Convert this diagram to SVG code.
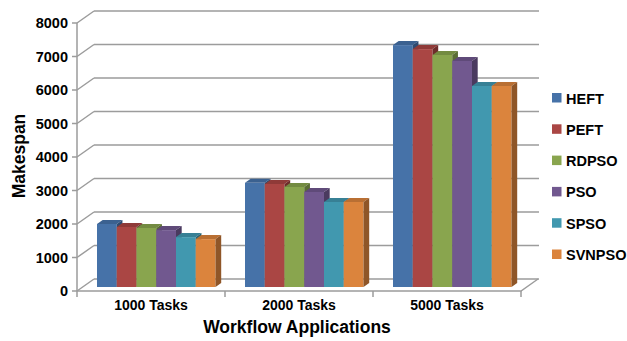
<svg xmlns="http://www.w3.org/2000/svg" width="627" height="341" viewBox="0 0 627 341">
  <style>
    text { font-family: "Liberation Sans", Arial, sans-serif; font-weight: bold; fill: #000; }
    .grid { stroke: #9C9C9C; stroke-width: 1.5; fill: none; }
    .ytick { font-size: 14.5px; text-anchor: end; }
    .xcat { font-size: 14px; text-anchor: middle; }
    .leg { font-size: 14.5px; }
    .heft .f { fill: #4672A8; } .heft .t { fill: #3B6190; } .heft .s { fill: #2E4B72; }
    .peft .f { fill: #AA4644; } .peft .t { fill: #8F3A38; } .peft .s { fill: #6E2C2B; }
    .rdpso .f { fill: #89A54E; } .rdpso .t { fill: #738B41; } .rdpso .s { fill: #5A6D33; }
    .pso .f { fill: #71588F; } .pso .t { fill: #5F4A79; } .pso .s { fill: #4A3A5F; }
    .spso .f { fill: #4198AF; } .spso .t { fill: #378095; } .spso .s { fill: #2A6474; }
    .svnpso .f { fill: #DB843D; } .svnpso .t { fill: #B96F33; } .svnpso .s { fill: #8F5628; }
  </style>
  <rect width="627" height="341" fill="#fff"/>

  <!-- back wall gridlines and left-wall diagonals -->
  <g id="grid" class="grid">
    <path d="M94 279H539M94 245.5H539M94 212H539M94 178.5H539M94 145H539M94 111.5H539M94 78H539M94 44.5H539M94 11H539"/>
    <path d="M77 291L94 279M77 257.5L94 245.5M77 224L94 212M77 190.5L94 178.5M77 157L94 145M77 123.5L94 111.5M77 90L94 78M77 56.5L94 44.5M77 23L94 11"/>
    <!-- floor front edge and right edge -->
    <path d="M77 291H521L538 279"/>
    <!-- value axis with tick marks -->
    <path d="M77 23V297M72 291H77M72 257.5H77M72 224H77M72 190.5H77M72 157H77M72 123.5H77M72 90H77M72 56.5H77M72 23H77"/>
    <!-- category ticks -->
    <path d="M225 291V297M373 291V297M521 291V297"/>
  </g>

  <!-- value axis labels -->
  <g id="y-labels" class="ytick">
    <text x="68" y="296">0</text>
    <text x="68" y="262.5">1000</text>
    <text x="68" y="229">2000</text>
    <text x="68" y="195.5">3000</text>
    <text x="68" y="162">4000</text>
    <text x="68" y="128.5">5000</text>
    <text x="68" y="95">6000</text>
    <text x="68" y="61.5">7000</text>
    <text x="68" y="28">8000</text>
  </g>
  <text id="y-title" transform="translate(24.5 156) rotate(-90)" font-size="17.5" text-anchor="middle">Makespan</text>

  <!-- bars: front face, top, side (drawn left to right) -->
  <g id="bars-1000">
    <g class="heft"><rect class="f" x="97" y="224" width="19.75" height="63"/><path class="t" d="M97 224l5.7 -4h19.75l-5.7 4z"/><path class="s" d="M116.75 224l5.7 -4V283l-5.7 4z"/></g>
    <g class="peft"><rect class="f" x="116.75" y="227" width="19.75" height="60"/><path class="t" d="M116.75 227l5.7 -4h19.75l-5.7 4z"/><path class="s" d="M136.5 227l5.7 -4V283l-5.7 4z"/></g>
    <g class="rdpso"><rect class="f" x="136.5" y="228" width="19.75" height="59"/><path class="t" d="M136.5 228l5.7 -4h19.75l-5.7 4z"/><path class="s" d="M156.25 228l5.7 -4V283l-5.7 4z"/></g>
    <g class="pso"><rect class="f" x="156.25" y="230.1" width="19.75" height="56.9"/><path class="t" d="M156.25 230.1l5.7 -4h19.75l-5.7 4z"/><path class="s" d="M176 230.1l5.7 -4V283l-5.7 4z"/></g>
    <g class="spso"><rect class="f" x="176" y="237.1" width="19.75" height="49.9"/><path class="t" d="M176 237.1l5.7 -4h19.75l-5.7 4z"/><path class="s" d="M195.75 237.1l5.7 -4V283l-5.7 4z"/></g>
    <g class="svnpso"><rect class="f" x="195.75" y="239.1" width="19.75" height="47.9"/><path class="t" d="M195.75 239.1l5.7 -4h19.75l-5.7 4z"/><path class="s" d="M215.5 239.1l5.7 -4V283l-5.7 4z"/></g>
  </g>
  <g id="bars-2000">
    <g class="heft"><rect class="f" x="245" y="182.8" width="19.75" height="104.2"/><path class="t" d="M245 182.8l5.7 -4h19.75l-5.7 4z"/><path class="s" d="M264.75 182.8l5.7 -4V283l-5.7 4z"/></g>
    <g class="peft"><rect class="f" x="264.75" y="184" width="19.75" height="103"/><path class="t" d="M264.75 184l5.7 -4h19.75l-5.7 4z"/><path class="s" d="M284.5 184l5.7 -4V283l-5.7 4z"/></g>
    <g class="rdpso"><rect class="f" x="284.5" y="187" width="19.75" height="100"/><path class="t" d="M284.5 187l5.7 -4h19.75l-5.7 4z"/><path class="s" d="M304.25 187l5.7 -4V283l-5.7 4z"/></g>
    <g class="pso"><rect class="f" x="304.25" y="192" width="19.75" height="95"/><path class="t" d="M304.25 192l5.7 -4h19.75l-5.7 4z"/><path class="s" d="M324 192l5.7 -4V283l-5.7 4z"/></g>
    <g class="spso"><rect class="f" x="324" y="201.9" width="19.75" height="85.1"/><path class="t" d="M324 201.9l5.7 -4h19.75l-5.7 4z"/><path class="s" d="M343.75 201.9l5.7 -4V283l-5.7 4z"/></g>
    <g class="svnpso"><rect class="f" x="343.75" y="201.9" width="19.75" height="85.1"/><path class="t" d="M343.75 201.9l5.7 -4h19.75l-5.7 4z"/><path class="s" d="M363.5 201.9l5.7 -4V283l-5.7 4z"/></g>
  </g>
  <g id="bars-5000">
    <g class="heft"><rect class="f" x="393" y="45.1" width="19.75" height="241.9"/><path class="t" d="M393 45.1l5.7 -4h19.75l-5.7 4z"/><path class="s" d="M412.75 45.1l5.7 -4V283l-5.7 4z"/></g>
    <g class="peft"><rect class="f" x="412.75" y="49.1" width="19.75" height="237.9"/><path class="t" d="M412.75 49.1l5.7 -4h19.75l-5.7 4z"/><path class="s" d="M432.5 49.1l5.7 -4V283l-5.7 4z"/></g>
    <g class="rdpso"><rect class="f" x="432.5" y="55" width="19.75" height="232"/><path class="t" d="M432.5 55l5.7 -4h19.75l-5.7 4z"/><path class="s" d="M452.25 55l5.7 -4V283l-5.7 4z"/></g>
    <g class="pso"><rect class="f" x="452.25" y="60.9" width="19.75" height="226.1"/><path class="t" d="M452.25 60.9l5.7 -4h19.75l-5.7 4z"/><path class="s" d="M472 60.9l5.7 -4V283l-5.7 4z"/></g>
    <g class="spso"><rect class="f" x="472" y="86" width="19.75" height="201"/><path class="t" d="M472 86l5.7 -4h19.75l-5.7 4z"/><path class="s" d="M491.75 86l5.7 -4V283l-5.7 4z"/></g>
    <g class="svnpso"><rect class="f" x="491.75" y="86" width="19.75" height="201"/><path class="t" d="M491.75 86l5.7 -4h19.75l-5.7 4z"/><path class="s" d="M511.5 86l5.7 -4V283l-5.7 4z"/></g>
  </g>

  <!-- category labels and axis title -->
  <g id="x-labels" class="xcat">
    <text x="151" y="310">1000 Tasks</text>
    <text x="299" y="310">2000 Tasks</text>
    <text x="447" y="310">5000 Tasks</text>
  </g>
  <text id="x-title" x="297" y="333" font-size="17.5" text-anchor="middle">Workflow Applications</text>

  <!-- legend -->
  <g id="legend" class="leg">
    <g class="heft"><rect class="f" x="552" y="93" width="9.5" height="9.5"/><text x="566" y="103.5">HEFT</text></g>
    <g class="peft"><rect class="f" x="552" y="124.3" width="9.5" height="9.5"/><text x="566" y="134.8">PEFT</text></g>
    <g class="rdpso"><rect class="f" x="552" y="155.6" width="9.5" height="9.5"/><text x="566" y="166.1">RDPSO</text></g>
    <g class="pso"><rect class="f" x="552" y="186.9" width="9.5" height="9.5"/><text x="566" y="197.4">PSO</text></g>
    <g class="spso"><rect class="f" x="552" y="218.2" width="9.5" height="9.5"/><text x="566" y="228.7">SPSO</text></g>
    <g class="svnpso"><rect class="f" x="552" y="249.5" width="9.5" height="9.5"/><text x="566" y="260">SVNPSO</text></g>
  </g>
</svg>
